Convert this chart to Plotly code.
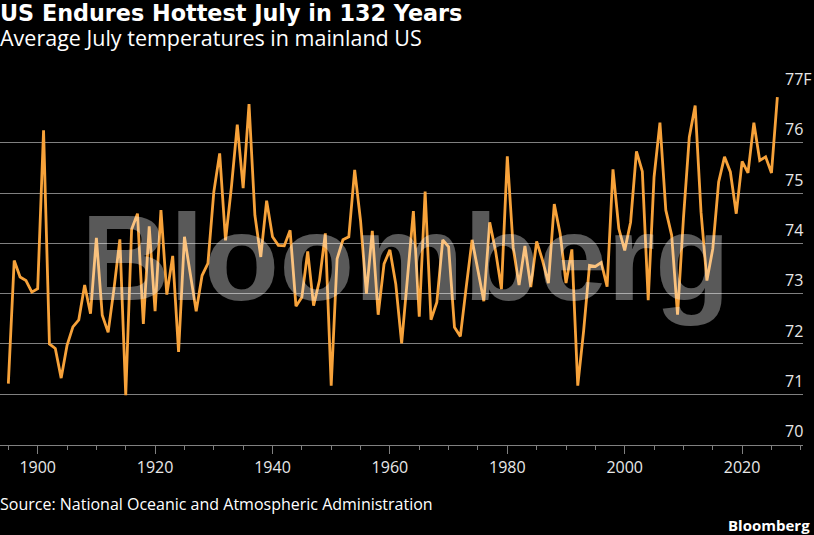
import plotly.graph_objects as go

years = list(range(1895, 2027))
temps = [
    71.21, 73.66, 73.33, 73.26, 73.03, 73.10, 76.25, 72.00, 71.91, 71.32,  # 1895-1904
    71.97, 72.34, 72.48, 73.17, 72.60, 74.11, 72.57, 72.23, 73.10, 74.08,  # 1905-1914
    70.98, 74.28, 74.59, 72.40, 74.34, 72.65, 74.66, 72.98, 73.75, 71.84,  # 1915-1924
    74.13, 73.40, 72.65, 73.36, 73.60, 75.02, 75.79, 74.06, 75.12, 76.36,  # 1925-1934
    75.10, 76.77, 74.56, 73.73, 74.85, 74.13, 73.96, 73.95, 74.26, 72.75,  # 1935-1944
    72.93, 73.84, 72.76, 73.26, 74.20, 71.17, 73.69, 74.07, 74.13, 75.46,  # 1945-1954
    74.45, 73.00, 74.25, 72.58, 73.59, 73.87, 73.19, 72.01, 73.32, 74.64,  # 1955-1964
    72.54, 75.03, 72.48, 72.83, 74.07, 73.93, 72.33, 72.15, 73.13, 74.07,  # 1965-1974
    73.46, 72.85, 74.42, 73.85, 73.09, 75.73, 73.92, 73.17, 73.95, 73.13,  # 1975-1984
    74.04, 73.66, 73.21, 74.78, 74.19, 73.21, 73.88, 71.17, 72.26, 73.56,  # 1985-1994
    73.54, 73.62, 73.14, 75.47, 74.29, 73.86, 74.42, 75.83, 75.43, 72.87,  # 1995-2004
    75.32, 76.40, 74.66, 74.16, 72.58, 74.49, 76.11, 76.74, 74.62, 73.26,  # 2005-2014
    73.89, 75.22, 75.72, 75.42, 74.59, 75.63, 75.40, 76.40, 75.65, 75.72,  # 2015-2024
    75.40, 76.91,                                                          # 2025-2026
]

y_tickvals = [70, 71, 72, 73, 74, 75, 76, 77]
y_ticktext = ["70", "71", "72", "73", "74", "75", "76", "77F"]

title_text = "US Endures Hottest July in 132 Years"
subtitle_text = "Average July temperatures in mainland US"
source_text = "Source: National Oceanic and Atmospheric Administration"
brand_text = "Bloomberg"

FONT = "Open Sans"
ORANGE = "#F7A23A"
GRID = "#808080"
TXT = "#e8e8e8"

fig = go.Figure()
fig.add_trace(go.Scatter(
    x=years, y=temps, mode="lines",
    line=dict(color=ORANGE, width=2.8),
    hoverinfo="x+y", showlegend=False,
))

fig.update_layout(
    width=814, height=535,
    paper_bgcolor="black", plot_bgcolor="black",
    margin=dict(l=0, r=11, t=92, b=90, pad=0),
    font=dict(family=FONT, color=TXT, size=15),
    xaxis=dict(
        range=[1893.58, 2030.37],
        tickmode="linear", tick0=1900, dtick=20,
        ticks="outside", ticklen=8, tickwidth=1, tickcolor=GRID,
        showline=True, linecolor=GRID, linewidth=1,
        showgrid=False, zeroline=False,
        tickfont=dict(family=FONT, size=16, color=TXT),
        minor=dict(dtick=5, tick0=1900, ticks="outside", ticklen=4,
                   tickcolor=GRID, tickwidth=1, showgrid=False),
        automargin=False, fixedrange=True,
    ),
    yaxis=dict(
        range=[69.99, 77.01], side="right",
        tickmode="array", tickvals=y_tickvals, ticktext=y_ticktext,
        showgrid=True, gridcolor=GRID, gridwidth=1,
        zeroline=False, showline=False, ticks="",
        ticklabelposition="outside", ticklabelstandoff=-19,
        ticklabelshift=-13,
        tickfont=dict(family=FONT, size=16, color=TXT),
        automargin=False, fixedrange=True,
    ),
    annotations=[
        dict(text=brand_text, xref="paper", yref="paper", x=0.505, y=0.53,
             xanchor="center", yanchor="middle", showarrow=False,
             font=dict(family="Liberation Sans", size=123, weight="bold",
                       color="rgba(255,255,255,0.35)")),
        dict(text="<b>" + title_text + "</b>", xref="paper", yref="paper",
             x=0, y=1, xanchor="left", yanchor="top", yshift=94, xshift=-2,
             showarrow=False, font=dict(family="DejaVu Sans", size=22.3, color="white")),
        dict(text=subtitle_text, xref="paper", yref="paper",
             x=0, y=1, xanchor="left", yanchor="top", yshift=71, xshift=-2,
             showarrow=False, font=dict(family=FONT, size=21.5, color="white")),
        dict(text=source_text, xref="paper", yref="paper",
             x=0, y=0, xanchor="left", yanchor="top", yshift=-46, xshift=-2,
             showarrow=False, font=dict(family=FONT, size=16, color="white")),
        dict(text="<b>" + brand_text + "</b>", xref="paper", yref="paper",
             x=1, y=0, xanchor="right", yanchor="top", yshift=-68, xshift=9,
             showarrow=False, font=dict(family=FONT, size=15, color="white")),
    ],
)

fig.write_html(
    "out.html",
    config={"displayModeBar": False, "staticPlot": False},
    post_script="document.body.style.margin='0px';document.body.style.backgroundColor='black';",
)
